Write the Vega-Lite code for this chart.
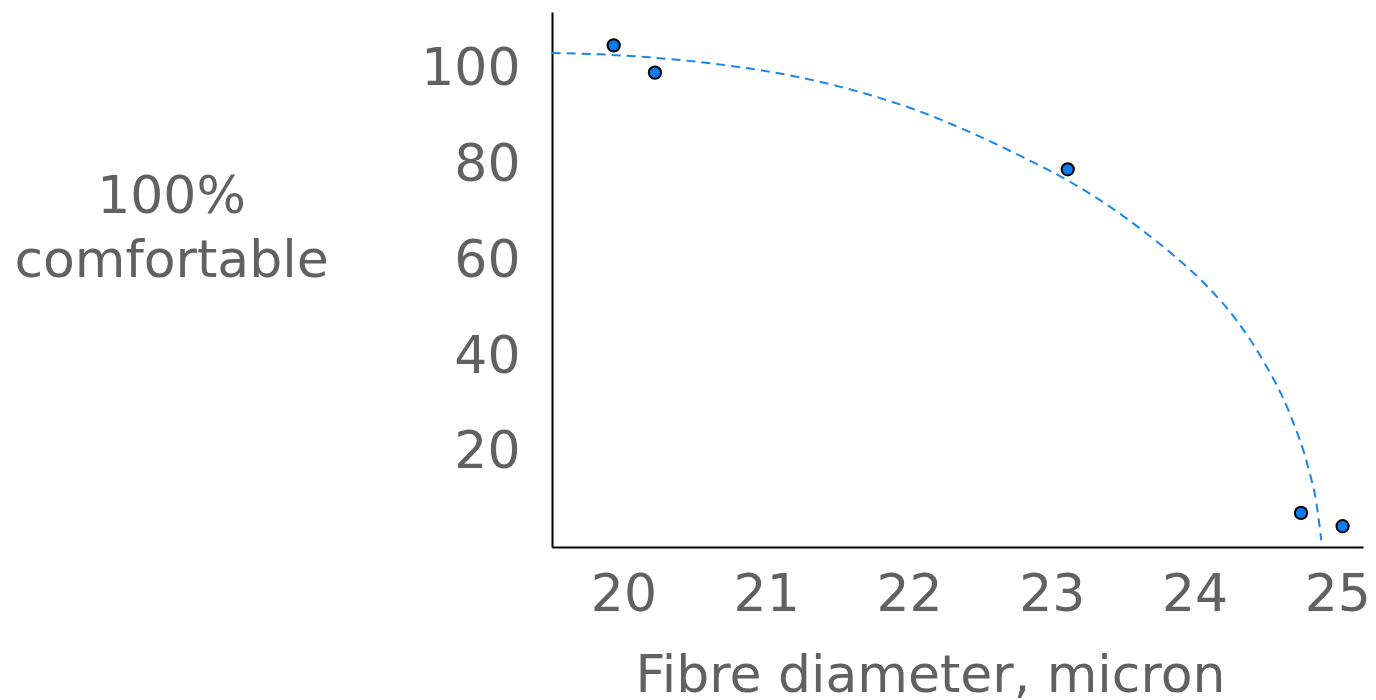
{
  "$schema": "https://vega.github.io/schema/vega-lite/v6.json",
  "autosize": "none",
  "width": 811,
  "height": 535,
  "padding": {"left": 552, "top": 12, "right": 13, "bottom": 153},
  "background": "white",
  "config": {
    "view": {"stroke": null},
    "font": "DejaVu Sans",
    "axis": {
      "grid": false,
      "ticks": false,
      "tickSize": 0,
      "domainColor": "black",
      "domainWidth": 2,
      "labelFont": "DejaVu Sans",
      "labelFontSize": 52,
      "labelColor": "#616161",
      "titleFont": "DejaVu Sans",
      "titleFontSize": 52,
      "titleFontWeight": "normal",
      "titleColor": "#616161"
    }
  },
  "datasets": {
    "points": [
      {"diameter": 19.932, "comfort": 104.75},
      {"diameter": 20.221, "comfort": 99.06},
      {"diameter": 23.112, "comfort": 78.92},
      {"diameter": 24.746, "comfort": 7.31},
      {"diameter": 25.037, "comfort": 4.54}
    ],
    "fit": [
      {"diameter": 19.498, "comfort": 103.15},
      {"diameter": 19.834, "comfort": 102.88},
      {"diameter": 20.184, "comfort": 102.25},
      {"diameter": 20.534, "comfort": 101.27},
      {"diameter": 20.884, "comfort": 99.91},
      {"diameter": 21.234, "comfort": 98.09},
      {"diameter": 21.514, "comfort": 96.15},
      {"diameter": 21.794, "comfort": 93.8},
      {"diameter": 22.074, "comfort": 91.0},
      {"diameter": 22.424, "comfort": 86.7},
      {"diameter": 22.774, "comfort": 81.8},
      {"diameter": 23.124, "comfort": 76.4},
      {"diameter": 23.404, "comfort": 71.2},
      {"diameter": 23.635, "comfort": 66.2},
      {"diameter": 23.873, "comfort": 60.5},
      {"diameter": 24.083, "comfort": 54.7},
      {"diameter": 24.293, "comfort": 47.5},
      {"diameter": 24.475, "comfort": 39.3},
      {"diameter": 24.664, "comfort": 28.2},
      {"diameter": 24.804, "comfort": 15.9},
      {"diameter": 24.853, "comfort": 9.5},
      {"diameter": 24.888, "comfort": 1.6}
    ]
  },
  "layer": [
    {
      "data": {"name": "fit"},
      "mark": {"type": "line", "color": "#1a85f0", "strokeWidth": 2, "strokeDash": [9, 6], "interpolate": "monotone"},
      "encoding": {
        "x": {
          "field": "diameter", "type": "quantitative",
          "scale": {"domain": [19.5, 25.18], "nice": false, "zero": false},
          "axis": {
            "values": [20, 21, 22, 23, 24, 25],
            "format": "d",
            "labelPadding": 22,
            "title": "Fibre diameter, micron",
            "titleX": 378, "titleY": 144,
            "titleAlign": "center", "titleBaseline": "alphabetic"
          }
        },
        "y": {
          "field": "comfort", "type": "quantitative",
          "scale": {"domain": [0.2, 111.7], "nice": false, "zero": false},
          "axis": {
            "values": [20, 40, 60, 80, 100],
            "format": "d",
            "labelPadding": 32,
            "title": ["100%\u00a0", "comfortable"],
            "titleAngle": 0,
            "titleX": -381, "titleY": 200,
            "titleAlign": "center", "titleBaseline": "alphabetic",
            "titleLineHeight": 64
          }
        }
      }
    },
    {
      "data": {"name": "points"},
      "mark": {"type": "point", "shape": "circle", "filled": true, "fill": "#0a7cf2", "stroke": "black", "strokeWidth": 2, "size": 150, "opacity": 1},
      "encoding": {
        "x": {"field": "diameter", "type": "quantitative"},
        "y": {"field": "comfort", "type": "quantitative"}
      }
    }
  ]
}
